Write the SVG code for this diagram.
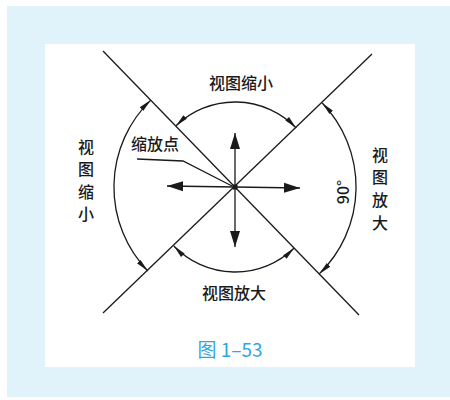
<svg xmlns="http://www.w3.org/2000/svg" width="450" height="400" viewBox="0 0 450 400">
<style>
.ln{stroke:#1a1a1a;stroke-width:1.3;fill:none}
.arc{stroke:#1a1a1a;stroke-width:1.3;fill:none;marker-start:url(#sa);marker-end:url(#sa)}
.ax{stroke:#1a1a1a;stroke-width:1.3;fill:none;marker-end:url(#ba)}
.t{font-family:"Noto Sans CJK SC","Liberation Sans",sans-serif;font-size:16px;font-weight:500;fill:#1a1a1a}
.cap{font-family:"Noto Sans CJK SC","Liberation Sans",sans-serif;font-size:19px;fill:#2ea7e0}
</style>
<defs>
<marker id="sa" markerUnits="userSpaceOnUse" markerWidth="14" markerHeight="8" refX="13" refY="3" orient="auto-start-reverse" viewBox="0 0 14 6">
<path d="M0,0.5 L13,3 L0,5.5 Z" fill="#1a1a1a"/>
</marker>
<marker id="ba" markerUnits="userSpaceOnUse" markerWidth="17" markerHeight="11" refX="16" refY="5" orient="auto" viewBox="0 0 17 10">
<path d="M0,0 L16,5 L0,10 Z" fill="#1a1a1a"/>
</marker>
</defs>
<rect x="7" y="6" width="443" height="391" fill="#e0f2fa"/>
<rect x="45" y="44" width="370" height="323" fill="#ffffff"/>
<g id="connectors">
<path class="ln" d="M103,51 L359,315"/>
<path class="ln" d="M372,54 L103,313"/>
<path class="arc" d="M150.8,100.1 A121,121 0 0 0 147.8,271"/>
<path class="arc" d="M322.2,103 A121,121 0 0 1 319.2,273.9"/>
<path class="arc" d="M175.8,126 A85,85 0 0 1 296.2,128"/>
<path class="arc" d="M173.8,246 A85,85 0 0 0 294.2,248"/>
<path class="ax" d="M235,187 L235,133"/>
<path class="ax" d="M235,187 L235,247"/>
<path class="ax" d="M235,187 L167,186"/>
<path class="ax" d="M235,187 L300,188"/>
<path class="ln" d="M137,159 L183,161 L232,186" stroke-width="1"/>
</g>
<g id="center"><rect x="232.5" y="184.5" width="5" height="5" fill="#1a1a1a"/></g>
<g id="label-top"><text class="t" x="241" y="89" text-anchor="middle" font-size="17">视图缩小</text></g>
<g id="label-bottom"><text class="t" x="234" y="299" text-anchor="middle" font-size="17">视图放大</text></g>
<g id="label-left">
<text class="t" x="86" y="153" text-anchor="middle">视</text>
<text class="t" x="86" y="175" text-anchor="middle">图</text>
<text class="t" x="86" y="198" text-anchor="middle">缩</text>
<text class="t" x="86" y="220" text-anchor="middle">小</text>
</g>
<g id="label-right">
<text class="t" x="380" y="161" text-anchor="middle">视</text>
<text class="t" x="380" y="183" text-anchor="middle">图</text>
<text class="t" x="380" y="206" text-anchor="middle">放</text>
<text class="t" x="380" y="229" text-anchor="middle">大</text>
</g>
<g id="label-zoompoint"><text class="t" x="131" y="150" font-size="14">缩放点</text></g>
<g id="label-angle"><text class="t" x="0" y="0" font-family="Liberation Sans,sans-serif" font-size="22" text-anchor="middle" transform="translate(349,192) rotate(-90)">90°</text></g>
<g id="caption"><text class="cap" x="230" y="357" text-anchor="middle">图 1–53</text></g>
</svg>
